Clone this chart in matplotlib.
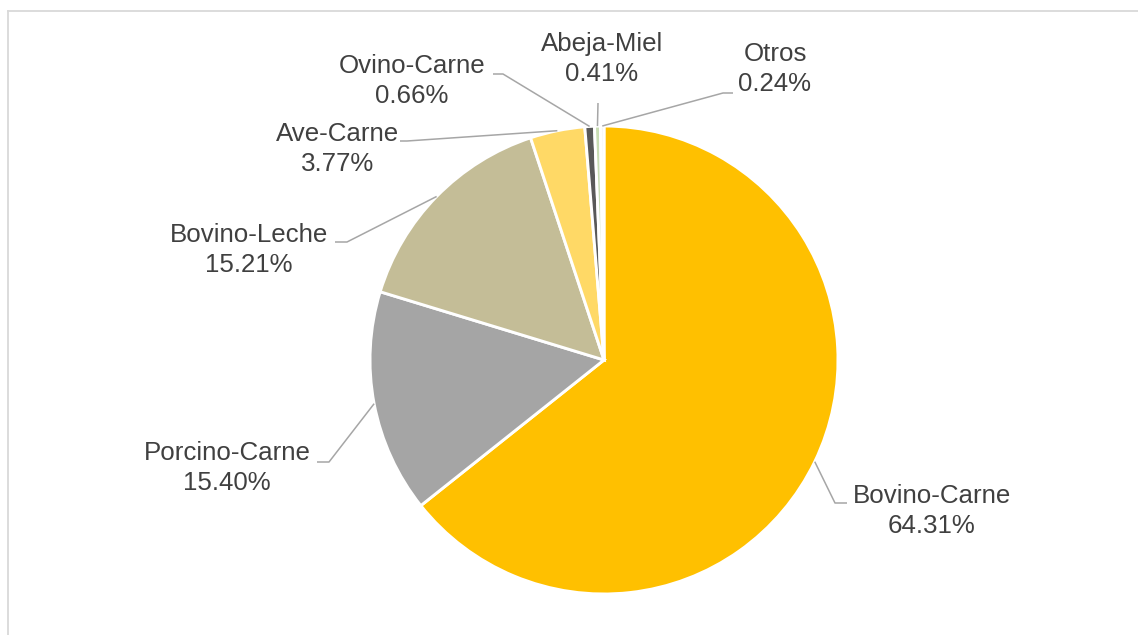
import numpy as np
import matplotlib.pyplot as plt
from matplotlib.lines import Line2D

# datos
categorias = ['Bovino-Carne', 'Porcino-Carne', 'Bovino-Leche', 'Ave-Carne',
              'Ovino-Carne', 'Abeja-Miel', 'Otros']
porcentajes = [64.31, 15.40, 15.21, 3.77, 0.66, 0.41, 0.24]
colores = ['#FFC000', '#A5A5A5', '#C4BD97', '#FFD966', '#595959', '#C9DDB4', '#F2F2F2']

W, H = 1138, 635
centro = (604, H - 360)
radio = 234

# posiciones de etiquetas (pixeles, y desde arriba): texto, codo, fin de linea
pos_texto = [(932, 511), (227, 468), (249, 250), (338, 149), (412, 81), (602, 59), (775, 69)]
codos = [(835, 503), (329, 462), (347, 242), (407, 141), (503, 74), (598, 103), (723, 93)]
finales = [847, 317, 335, 400, 493, 598, 733]

plt.rcParams['font.family'] = ['Liberation Sans', 'DejaVu Sans']

fig = plt.figure(figsize=(W / 100, H / 100), dpi=100)
ax = fig.add_axes([0, 0, 1, 1])

wedges, _ = ax.pie(porcentajes, colors=colores, startangle=90, counterclock=False,
                   center=centro, radius=radio, frame=True,
                   wedgeprops=dict(edgecolor='white', linewidth=2.1))
ax.set_xlim(0, W)
ax.set_ylim(0, H)
ax.axis('off')

for w, cat, p, (tx, ty), (ex, ey), fx in zip(wedges, categorias, porcentajes,
                                              pos_texto, codos, finales):
    ang = np.deg2rad((w.theta1 + w.theta2) / 2)
    sx = centro[0] + radio * np.cos(ang)
    sy = centro[1] + radio * np.sin(ang)
    ax.plot([sx, ex, fx], [sy, H - ey, H - ey], color='#A6A6A6', lw=1.1,
            solid_capstyle='butt')
    ax.text(tx, H - ty, f'{cat}\n{p:.2f}%', ha='center', va='center',
            multialignment='center', fontsize=18.6, color='#404040', linespacing=1.32)

# borde del grafico
fig.add_artist(Line2D([7.5 / W, 1], [1 - 10.5 / H, 1 - 10.5 / H], color='#D9D9D9', lw=1.3))
fig.add_artist(Line2D([7.5 / W, 7.5 / W], [0, 1 - 10.5 / H], color='#D9D9D9', lw=1.3))

fig.savefig('out.png', dpi=100, facecolor='white')
